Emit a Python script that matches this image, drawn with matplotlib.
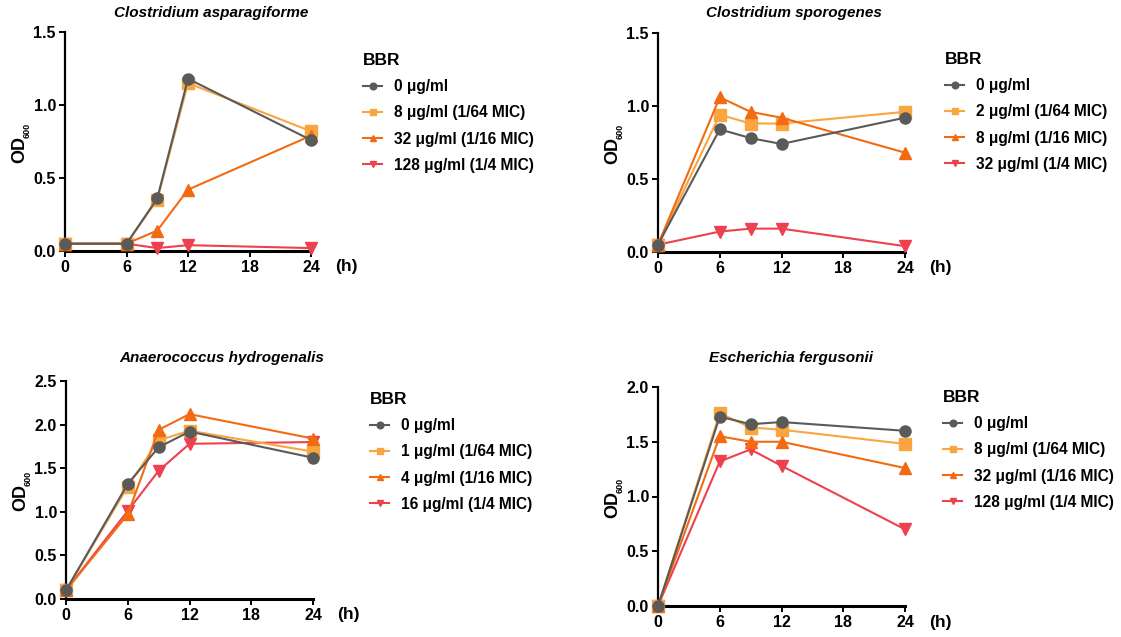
import matplotlib
matplotlib.use("Agg")
import matplotlib.pyplot as plt

plt.rcParams['font.family'] = ['Liberation Sans', 'DejaVu Sans']
plt.rcParams['font.weight'] = 'bold'

hours = [0, 6, 9, 12, 24]
x_ticks = [0, 6, 12, 18, 24]

titles = ["Clostridium asparagiforme", "Clostridium sporogenes",
          "Anaerococcus hydrogenalis", "Escherichia fergusonii"]

labels_ca = ["0 μg/ml", "8 μg/ml (1/64 MIC)", "32 μg/ml (1/16 MIC)", "128 μg/ml (1/4 MIC)"]
labels_cs = ["0 μg/ml", "2 μg/ml (1/64 MIC)", "8 μg/ml (1/16 MIC)", "32 μg/ml (1/4 MIC)"]
labels_ah = ["0 μg/ml", "1 μg/ml (1/64 MIC)", "4 μg/ml (1/16 MIC)", "16 μg/ml (1/4 MIC)"]
labels_ef = ["0 μg/ml", "8 μg/ml (1/64 MIC)", "32 μg/ml (1/16 MIC)", "128 μg/ml (1/4 MIC)"]

ca_0 = [0.05, 0.05, 0.36, 1.18, 0.76]
ca_64 = [0.05, 0.05, 0.35, 1.15, 0.82]
ca_16 = [0.05, 0.05, 0.14, 0.42, 0.79]
ca_4 = [0.05, 0.05, 0.02, 0.04, 0.02]

cs_0 = [0.05, 0.84, 0.78, 0.74, 0.92]
cs_64 = [0.05, 0.94, 0.88, 0.88, 0.96]
cs_16 = [0.05, 1.06, 0.96, 0.92, 0.68]
cs_4 = [0.05, 0.14, 0.16, 0.16, 0.04]

ah_0 = [0.10, 1.32, 1.74, 1.92, 1.62]
ah_64 = [0.10, 1.29, 1.82, 1.93, 1.69]
ah_16 = [0.10, 0.97, 1.94, 2.12, 1.84]
ah_4 = [0.10, 1.01, 1.47, 1.78, 1.80]

ef_0 = [0.0, 1.73, 1.66, 1.68, 1.60]
ef_64 = [0.0, 1.76, 1.63, 1.61, 1.48]
ef_16 = [0.0, 1.55, 1.50, 1.50, 1.26]
ef_4 = [0.0, 1.32, 1.43, 1.28, 0.70]

panels = [
    (titles[0], labels_ca, [ca_0, ca_64, ca_16, ca_4], 1.5, [0.0, 0.5, 1.0, 1.5]),
    (titles[1], labels_cs, [cs_0, cs_64, cs_16, cs_4], 1.5, [0.0, 0.5, 1.0, 1.5]),
    (titles[2], labels_ah, [ah_0, ah_64, ah_16, ah_4], 2.5, [0.0, 0.5, 1.0, 1.5, 2.0, 2.5]),
    (titles[3], labels_ef, [ef_0, ef_64, ef_16, ef_4], 2.0, [0.0, 0.5, 1.0, 1.5, 2.0]),
]

colors = ["#5a5a5a", "#f9a540", "#f26b12", "#ee4150"]
markers = ["o", "s", "^", "v"]
zorders = [6, 4, 4, 3]

W, H = 1121, 637
# axes boxes in pixels: left, right, top, bottom
boxes_px = [
    (65, 311, 32, 251),
    (658, 905, 33, 252),
    (66, 313, 381, 599),
    (658, 905, 387, 606),
]
title_x = [0.595, 0.55, 0.63, 0.54]
title_gap_px = [19, 20, 23, 29]
legend_top_px = [53, 52, 392, 390]
legend_dx_px = [52, 40, 57, 38]

fig = plt.figure(figsize=(W / 100, H / 100), dpi=100)

for i, (title, labels, series, ymax, yticks) in enumerate(panels):
    l, r, t, b = boxes_px[i]
    hpx = b - t
    wpx = r - l
    ax = fig.add_axes([l / W, 1 - b / H, wpx / W, hpx / H])
    handles = []
    for vals, c, m, lab, zo in zip(series, colors, markers, labels, zorders):
        h, = ax.plot(hours, vals, color=c, marker=m, markersize=8, lw=1.5,
                     label=lab, clip_on=False, zorder=zo)
        handles.append(h)
    ax.set_xlim(0, 24)
    ax.set_ylim(0, ymax)
    ax.set_xticks(x_ticks)
    ax.set_yticks(yticks)
    ax.set_yticklabels([f"{v:.1f}" for v in yticks])
    for s in ['top', 'right']:
        ax.spines[s].set_visible(False)
    ax.spines['left'].set_linewidth(1.6)
    ax.spines['bottom'].set_linewidth(2.2)
    ax.tick_params(axis='both', direction='out', length=4, width=1.4,
                   labelsize=11.5, pad=2.5)
    for lbl in ax.get_xticklabels() + ax.get_yticklabels():
        lbl.set_fontweight('bold')
    ax.text(-45 / wpx, 0.465, "OD", rotation=90, transform=ax.transAxes,
            fontsize=13, fontweight='bold', ha='center', va='center')
    ax.text(-38 / wpx, 0.552, "600", rotation=90, transform=ax.transAxes,
            fontsize=6.5, fontweight='bold', ha='center', va='center')
    ax.text(title_x[i], 1 + title_gap_px[i] / hpx, title, transform=ax.transAxes,
            fontsize=11, fontweight='bold', style='italic', ha='center', va='center')
    ax.text(1 + 35 / wpx, -16 / hpx, "(h)", transform=ax.transAxes, fontsize=12.5,
            fontweight='bold', ha='center', va='center')
    leg = ax.legend(handles=handles, loc='upper left',
                    bbox_to_anchor=(1 + legend_dx_px[i] / wpx, 1 - (legend_top_px[i] - t) / hpx),
                    frameon=False, title="BBR", fontsize=11.2, markerscale=0.6,
                    handlelength=1.25, labelspacing=0.72, handletextpad=0.75,
                    alignment='left', borderaxespad=0, borderpad=0)
    leg.get_title().set_fontweight('bold')
    leg.get_title().set_fontsize(12.5)
    for t_ in leg.get_texts():
        t_.set_fontweight('bold')

fig.savefig("out.png", dpi=100)
